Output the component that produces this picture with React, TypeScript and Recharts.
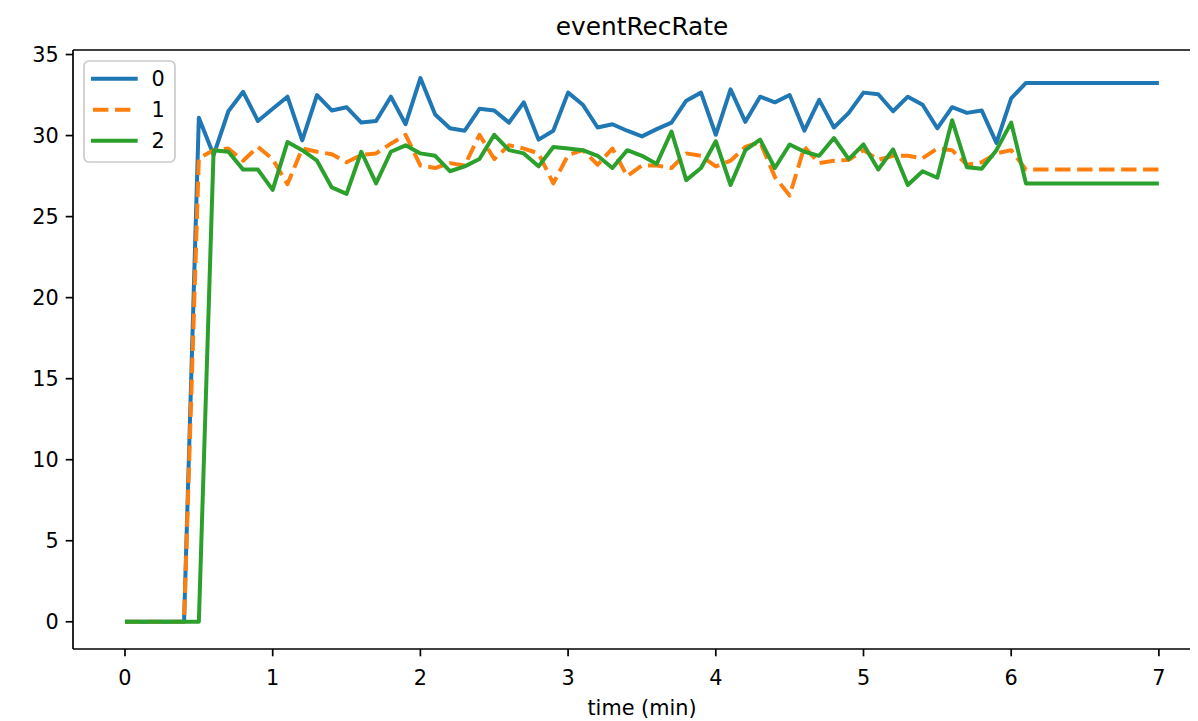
import { LineChart, Line, XAxis, YAxis } from 'recharts';

const times = [
    0, 0.1, 0.2, 0.3, 0.4, 0.5, 0.6, 0.7, 0.8, 0.9,
    1, 1.1, 1.2, 1.3, 1.4, 1.5, 1.6, 1.7, 1.8, 1.9,
    2, 2.1, 2.2, 2.3, 2.4, 2.5, 2.6, 2.7, 2.8, 2.9,
    3, 3.1, 3.2, 3.3, 3.4, 3.5, 3.6, 3.7, 3.8, 3.9,
    4, 4.1, 4.2, 4.3, 4.4, 4.5, 4.6, 4.7, 4.8, 4.9,
    5, 5.1, 5.2, 5.3, 5.4, 5.5, 5.6, 5.7, 5.8, 5.9,
    6, 6.1, 6.2, 6.3, 6.4, 6.5, 6.6, 6.7, 6.8, 6.9,
    7,
];

const series0 = [
    0, 0, 0, 0, 0, 31.1, 28.8, 31.5, 32.7, 30.9,
    31.65, 32.4, 29.7, 32.5, 31.55, 31.75, 30.8, 30.9, 32.4, 30.7,
    33.55, 31.3, 30.45, 30.3, 31.65, 31.55, 30.8, 32.05, 29.75, 30.3,
    32.65, 31.9, 30.5, 30.7, 30.3, 29.95, 30.4, 30.8, 32.15, 32.65,
    30.05, 32.85, 30.85, 32.4, 32.05, 32.5, 30.3, 32.2, 30.5, 31.4,
    32.65, 32.55, 31.5, 32.4, 31.9, 30.45, 31.75, 31.4, 31.55, 29.55,
    32.3, 33.25, 33.25, 33.25, 33.25, 33.25, 33.25, 33.25, 33.25, 33.25,
    33.25,
];

const series1 = [
    0, 0, 0, 0, 0, 28.6, 29.1, 29.2, 28.45, 29.3,
    28.55, 27.0, 29.2, 29.0, 28.85, 28.35, 28.8, 28.9, 29.5, 30.05,
    28.15, 28.0, 28.3, 28.15, 30.05, 28.55, 29.4, 29.2, 28.9, 27.05,
    28.8, 29.1, 28.2, 29.2, 27.5, 28.15, 28.15, 28.0, 28.9, 28.75,
    28.1, 28.45, 29.3, 29.6, 27.45, 26.3, 29.3, 28.3, 28.45, 28.5,
    29.1, 28.5, 28.75, 28.75, 28.6, 29.2, 29.1, 28.2, 28.35, 28.9,
    29.1, 27.9, 27.9, 27.9, 27.9, 27.9, 27.9, 27.9, 27.9, 27.9,
    27.9,
];

const series2 = [
    0, 0, 0, 0, 0, 0, 29.1, 29.0, 27.9, 27.9,
    26.65, 29.6, 29.1, 28.45, 26.8, 26.4, 29.0, 27.05, 29.0, 29.4,
    28.9, 28.75, 27.8, 28.1, 28.55, 30.05, 29.1, 28.9, 28.1, 29.3,
    29.2, 29.1, 28.75, 28.0, 29.1, 28.75, 28.25, 30.25, 27.25, 28.0,
    29.65, 26.95, 29.1, 29.75, 28.0, 29.45, 29.0, 28.75, 29.85, 28.55,
    29.45, 27.9, 29.15, 26.95, 27.8, 27.4, 30.95, 28.05, 27.95, 29.1,
    30.8, 27.05, 27.05, 27.05, 27.05, 27.05, 27.05, 27.05, 27.05, 27.05,
    27.05,
];

const seriesNames = ['0', '1', '2'];
const colors = ['#1f77b4', '#ff7f0e', '#2ca02c'];
const xTicks = [0, 1, 2, 3, 4, 5, 6, 7];
const yTicks = [0, 5, 10, 15, 20, 25, 30, 35];

const data = times.map((t, i) => ({
    t,
    s0: series0[i],
    s1: series1[i],
    s2: series2[i],
}));

const FONT = 'DejaVu Sans';
const W = 1190;
const H = 713;

const tickStyle = { fontFamily: FONT, fontSize: 20.8, fill: '#000' };
const axisLine = { stroke: '#000', strokeWidth: 1.7 };

const App = () => {
    return (
        <div style={{ position: 'relative', width: W, height: H }}>
            <LineChart
                width={W}
                height={H}
                data={data}
                margin={{ top: 42, right: 1, left: 0, bottom: 0 }}
            >
                <XAxis
                    dataKey="t"
                    type="number"
                    domain={[-0.352, 7.258]}
                    allowDataOverflow
                    ticks={xTicks}
                    interval={0}
                    height={72}
                    tick={tickStyle}
                    tickSize={7.3}
                    tickMargin={14}
                    axisLine={axisLine}
                    tickLine={axisLine}
                />
                <YAxis
                    type="number"
                    domain={[-1.68, 35.28]}
                    allowDataOverflow
                    ticks={yTicks}
                    interval={0}
                    width={65}
                    tick={tickStyle}
                    tickSize={7.3}
                    tickMargin={7}
                    axisLine={axisLine}
                    tickLine={axisLine}
                />
                <Line
                    dataKey="s0"
                    type="linear"
                    stroke={colors[0]}
                    strokeWidth={4}
                    strokeLinejoin="round"
                    dot={false}
                    isAnimationActive={false}
                />
                <Line
                    dataKey="s1"
                    type="linear"
                    stroke={colors[1]}
                    strokeWidth={4}
                    strokeDasharray="15.4 6.6"
                    strokeLinejoin="round"
                    dot={false}
                    isAnimationActive={false}
                />
                <Line
                    dataKey="s2"
                    type="linear"
                    stroke={colors[2]}
                    strokeWidth={4}
                    strokeLinejoin="round"
                    dot={false}
                    isAnimationActive={false}
                />
            </LineChart>

            {/* title, x label, top spine and legend box on top of the chart */}
            <svg
                width={W}
                height={H}
                style={{ position: 'absolute', left: 0, top: 0, pointerEvents: 'none' }}
            >
                <line x1={65} y1={42} x2={W} y2={42} stroke="#000" strokeWidth={1.7} />
                <text x={634} y={26.7} textAnchor="middle" fontFamily={FONT} fontSize={24.8} fill="#000">
                    eventRecRate
                </text>
                <text x={634} y={706.5} textAnchor="middle" fontFamily={FONT} fontSize={20.8} fill="#000">
                    time (min)
                </text>
                <rect x={76} y={53} width={91} height={101} rx={5} fill="rgba(255,255,255,0.8)" stroke="#cccccc" strokeWidth={1.7} />
                {seriesNames.map((name, i) => {
                    const y = 70.7 + i * 31;
                    return (
                        <g key={name}>
                            <line
                                x1={85}
                                x2={127.7}
                                y1={y}
                                y2={y}
                                stroke={colors[i]}
                                strokeWidth={4}
                                strokeLinecap={i === 1 ? 'butt' : 'square'}
                                strokeDasharray={i === 1 ? '15.4 6.6' : undefined}
                            />
                            <text x={143.5} y={y + 7.5} fontFamily={FONT} fontSize={20.8} fill="#000">
                                {name}
                            </text>
                        </g>
                    );
                })}
            </svg>
        </div>
    );
};

export default App;
